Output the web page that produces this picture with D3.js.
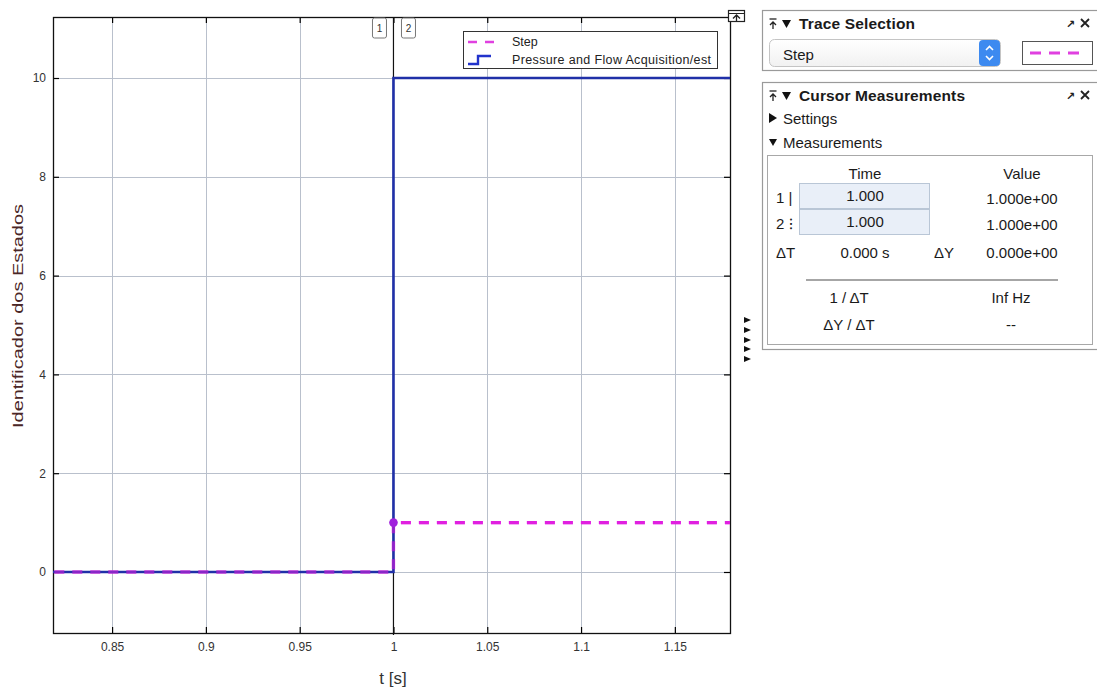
<!DOCTYPE html>
<html>
<head>
<meta charset="utf-8">
<script src="https://cdn.jsdelivr.net/npm/d3@7"></script>
<style>
  html, body { margin: 0; padding: 0; background: #fff; }
  svg { display: block; font-family: "Liberation Sans", Arial, Helvetica, sans-serif; }
</style>
</head>
<body>
<svg id="chart" width="1097" height="687"></svg>
<script>
// Signal samples (time in seconds)
const timeSamples   = [0.80, 1.0, 1.0, 1.20];
const stepValues    = [0, 0, 1, 1];
const pressureFlow  = [0, 0, 10, 10];
const seriesNames   = ["Step", "Pressure and Flow Acquisition/est"];

// Axis ticks
const xTicks = [0.85, 0.9, 0.95, 1, 1.05, 1.1, 1.15];
const yTicks = [0, 2, 4, 6, 8, 10];
const xDomain = [0.8185, 1.1794];
const yDomain = [-1.235, 11.235];

// Cursor readout
const cursorIds    = [1, 2];
const cursorTimes  = [1.000, 1.000];
const cursorValues = [1.0, 1.0];

const svg = d3.select("#chart");
const plot = { left: 53, right: 730, top: 17, bottom: 633 };

const x = d3.scaleLinear().domain(xDomain).range([plot.left, plot.right]);
const y = d3.scaleLinear().domain(yDomain).range([plot.bottom, plot.top]);

svg.append("defs").append("clipPath").attr("id", "plotClip")
  .append("rect")
  .attr("x", plot.left).attr("y", plot.top)
  .attr("width", plot.right - plot.left).attr("height", plot.bottom - plot.top);

// Grid
const grid = svg.append("g").attr("stroke", "#b9c0cc").attr("stroke-width", 1);
grid.selectAll("line.v").data(xTicks).join("line")
  .attr("x1", d => Math.round(x(d)) + 0.5).attr("x2", d => Math.round(x(d)) + 0.5)
  .attr("y1", plot.top).attr("y2", plot.bottom);
grid.selectAll("line.h").data(yTicks).join("line")
  .attr("y1", d => Math.round(y(d)) + 0.5).attr("y2", d => Math.round(y(d)) + 0.5)
  .attr("x1", plot.left).attr("x2", plot.right);

// Axes with inward ticks
function styleAxis(g) {
  g.select(".domain").remove();
  g.selectAll(".tick line").attr("stroke", "#000").attr("stroke-width", 1.2);
  g.selectAll(".tick text").attr("fill", "#333").attr("font-size", 12)
    .attr("font-family", "'Liberation Sans', Arial, sans-serif");
}
svg.append("g").attr("transform", `translate(0,${plot.bottom})`)
  .call(d3.axisBottom(x).tickValues(xTicks).tickFormat(d3.format("")).tickSize(-6).tickPadding(9))
  .call(styleAxis);
svg.append("g").attr("transform", `translate(0,${plot.top})`)
  .call(d3.axisTop(x).tickValues(xTicks).tickFormat("").tickSize(-6))
  .call(styleAxis);
svg.append("g").attr("transform", `translate(${plot.left},0)`)
  .call(d3.axisLeft(y).tickValues(yTicks).tickSize(-6).tickPadding(7))
  .call(styleAxis);
svg.append("g").attr("transform", `translate(${plot.right},0)`)
  .call(d3.axisRight(y).tickValues(yTicks).tickFormat("").tickSize(-6))
  .call(styleAxis);

// Frame
svg.append("rect")
  .attr("x", plot.left + 0.5).attr("y", plot.top + 0.5)
  .attr("width", plot.right - plot.left).attr("height", plot.bottom - plot.top)
  .attr("fill", "none").attr("stroke", "#111").attr("stroke-width", 1.3);

// Cursor line at the shared cursor time
svg.append("line")
  .attr("x1", x(cursorTimes[0])).attr("x2", x(cursorTimes[0]))
  .attr("y1", plot.top).attr("y2", plot.bottom + 2)
  .attr("stroke", "#111").attr("stroke-width", 1.2);

// Traces
const stepData = timeSamples.map((t, i) => [t, stepValues[i]]);
const pfData   = timeSamples.map((t, i) => [t, pressureFlow[i]]);
const line = d3.line().x(d => x(d[0])).y(d => y(d[1]));
const traces = svg.append("g").attr("clip-path", "url(#plotClip)");

traces.append("path").datum(stepData).attr("d", line)
  .attr("fill", "none").attr("stroke", "#e020e0").attr("stroke-width", 3.2)
  .attr("stroke-dasharray", "10,8");
traces.append("path").datum(pfData).attr("d", line)
  .attr("fill", "none").attr("stroke", "#2030a8").attr("stroke-width", 2.6);
traces.append("path").datum(stepData).attr("d", line)
  .attr("fill", "none").attr("stroke", "#e020e0").attr("stroke-width", 3.2)
  .attr("stroke-dasharray", "10,8").attr("opacity", 0.55);

// Cursor marker on the step trace
svg.append("circle")
  .attr("cx", x(cursorTimes[0])).attr("cy", y(cursorValues[0])).attr("r", 4.3)
  .attr("fill", "#a020dc");

// Cursor tags
const tagX = [x(cursorTimes[0]) - 14, x(cursorTimes[1]) + 15];
cursorIds.forEach((id, i) => {
  const g = svg.append("g").attr("transform", `translate(${tagX[i]},28)`);
  g.append("rect").attr("x", -7).attr("y", -10).attr("width", 14).attr("height", 20)
    .attr("rx", 2).attr("fill", "#fff").attr("stroke", "#777").attr("stroke-width", 1);
  g.append("text").attr("text-anchor", "middle").attr("y", 4).attr("font-size", 10)
    .attr("fill", "#333").text(id);
});

// Legend
const lg = svg.append("g");
lg.append("rect").attr("x", 463.5).attr("y", 31.5).attr("width", 254).attr("height", 37)
  .attr("fill", "#fff").attr("stroke", "#333").attr("stroke-width", 1);
lg.append("line").attr("x1", 468).attr("x2", 499).attr("y1", 42).attr("y2", 42)
  .attr("stroke", "#e040e0").attr("stroke-width", 2.5).attr("stroke-dasharray", "9,8");
lg.append("path").attr("d", "M468,64 H478 V56 H491")
  .attr("fill", "none").attr("stroke", "#2233cc").attr("stroke-width", 2.4);
lg.selectAll("text").data(seriesNames).join("text")
  .attr("x", 512).attr("y", (d, i) => 46 + i * 18)
  .attr("font-size", 12.5).attr("fill", "#222")
  .attr("textLength", (d, i) => i === 1 ? 199 : null)
  .attr("lengthAdjust", "spacing")
  .text(d => d);

// Axis titles
svg.append("text").attr("x", 393).attr("y", 684).attr("text-anchor", "middle")
  .attr("font-size", 17).attr("fill", "#333").text("t [s]");
svg.append("text").attr("transform", "translate(23,316) rotate(-90)")
  .attr("text-anchor", "middle").attr("font-size", 15.5).attr("fill", "#4a2626")
  .attr("textLength", 224).attr("lengthAdjust", "spacingAndGlyphs")
  .text("Identificador dos Estados");

// Undock icon at plot corner
const ui = svg.append("g");
ui.append("rect").attr("x", 728.5).attr("y", 10.5).attr("width", 16).attr("height", 11)
  .attr("fill", "#fff").attr("stroke", "#222").attr("stroke-width", 1.2);
ui.append("line").attr("x1", 729).attr("x2", 744).attr("y1", 13.5).attr("y2", 13.5).attr("stroke", "#222");
ui.append("path").attr("d", "M736.5,21 V15.5 M733,18.5 L736.5,15 L740,18.5")
  .attr("fill", "none").attr("stroke", "#222").attr("stroke-width", 1.3);

// Collapsed side toolbar arrows
[320, 330, 340, 349, 359].forEach(ty => {
  svg.append("path").attr("d", `M744,${ty - 3} L751,${ty} L744,${ty + 3} Z`).attr("fill", "#111");
});

// ---------- Side panels ----------
function pinIcon(g, px, py) {
  g.append("line").attr("x1", px - 3.5).attr("x2", px + 3.5).attr("y1", py - 5).attr("y2", py - 5)
    .attr("stroke", "#222").attr("stroke-width", 1.3);
  g.append("path").attr("d", `M${px},${py + 5} V${py - 2} M${px - 3},${py + 1} L${px},${py - 2} L${px + 3},${py + 1}`)
    .attr("fill", "none").attr("stroke", "#222").attr("stroke-width", 1.3);
}
function panelHeader(g, title, hy, len) {
  pinIcon(g, 773, hy - 5);
  g.append("path").attr("d", `M782,${hy - 9} L791,${hy - 9} L786.5,${hy - 1} Z`).attr("fill", "#111");
  g.append("text").attr("x", 799).attr("y", hy).attr("font-size", 15.5).attr("font-weight", "bold")
    .attr("fill", "#1a1a1a").attr("textLength", len).attr("lengthAdjust", "spacing").text(title);
  g.append("text").attr("x", 1066).attr("y", hy - 1).attr("font-size", 11).attr("font-weight", "bold")
    .attr("font-family", "'DejaVu Sans', sans-serif").attr("fill", "#222").text("\u2197");
  g.append("path").attr("d", `M1081,${hy - 10} L1089,${hy - 2} M1089,${hy - 10} L1081,${hy - 2}`)
    .attr("stroke", "#222").attr("stroke-width", 1.8);
}

// Trace Selection panel
const p1 = svg.append("g");
p1.append("rect").attr("x", 762.5).attr("y", 10.5).attr("width", 340).attr("height", 60)
  .attr("fill", "#fff").attr("stroke", "#9a9a9a").attr("stroke-width", 1.2);
panelHeader(p1, "Trace Selection", 29, 116);
const grad = svg.select("defs").append("linearGradient").attr("id", "ddGrad")
  .attr("x1", 0).attr("y1", 0).attr("x2", 0).attr("y2", 1);
grad.append("stop").attr("offset", 0).attr("stop-color", "#ffffff");
grad.append("stop").attr("offset", 1).attr("stop-color", "#f1f1f1");
p1.append("rect").attr("x", 769.5).attr("y", 39.5).attr("width", 231).attr("height", 27).attr("rx", 5)
  .attr("fill", "url(#ddGrad)").attr("stroke", "#c4c4c4");
p1.append("rect").attr("x", 979).attr("y", 40).attr("width", 21).attr("height", 26).attr("rx", 4)
  .attr("fill", "#3d8af0");
p1.append("path").attr("d", "M986,50 L989.5,46.5 L993,50 M986,56 L989.5,59.5 L993,56")
  .attr("fill", "none").attr("stroke", "#fff").attr("stroke-width", 1.6);
p1.append("text").attr("x", 783).attr("y", 60).attr("font-size", 15).attr("fill", "#1a1a1a")
  .text(seriesNames[0]);
p1.append("rect").attr("x", 1022.5).attr("y", 41.5).attr("width", 70).attr("height", 23)
  .attr("fill", "#fff").attr("stroke", "#555").attr("stroke-width", 1);
p1.append("line").attr("x1", 1030).attr("x2", 1087).attr("y1", 53).attr("y2", 53)
  .attr("stroke", "#e040e0").attr("stroke-width", 3).attr("stroke-dasharray", "11,8");

// Cursor Measurements panel
const p2 = svg.append("g");
p2.append("rect").attr("x", 762.5).attr("y", 82.5).attr("width", 340).attr("height", 267)
  .attr("fill", "#fff").attr("stroke", "#9a9a9a").attr("stroke-width", 1.2);
panelHeader(p2, "Cursor Measurements", 101, 166);
p2.append("path").attr("d", "M769,113 L777,118 L769,123 Z").attr("fill", "#111");
p2.append("text").attr("x", 783).attr("y", 124).attr("font-size", 15).attr("fill", "#1a1a1a").text("Settings");
p2.append("path").attr("d", "M769,139 L777,139 L773,146 Z").attr("fill", "#111");
p2.append("text").attr("x", 783).attr("y", 148).attr("font-size", 15).attr("fill", "#1a1a1a").text("Measurements");
p2.append("rect").attr("x", 767.5).attr("y", 155.5).attr("width", 325).attr("height", 189)
  .attr("fill", "#fff").attr("stroke", "#a8a8a8").attr("stroke-width", 1);

const fmtT = d3.format(".3f");
const fmtE = v => v.toExponential(3).replace(/e([+-])(\d)$/, "e$10$2");
const colTime = 865, colVal = 1022;
function t2(txt, tx, ty, anchor) {
  p2.append("text").attr("x", tx).attr("y", ty).attr("text-anchor", anchor || "middle")
    .attr("font-size", 15).attr("fill", "#1a1a1a").text(txt);
}
t2("Time", colTime, 179);
t2("Value", colVal, 179);
const rowMarks = ["1 |", "2 \u205D"];
cursorIds.forEach((id, i) => {
  const ry = 183 + i * 26;
  p2.append("rect").attr("x", 799.5).attr("y", ry + 0.5).attr("width", 130).attr("height", 25)
    .attr("fill", "#e9eff8").attr("stroke", "#b9c6d6");
  t2(rowMarks[i], 776, 203 + i * 26, "start");
  t2(fmtT(cursorTimes[i]), colTime, 201 + i * 26);
  t2(fmtE(cursorValues[i]), colVal, 204 + i * 26);
});
const dT = cursorTimes[1] - cursorTimes[0];
const dY = cursorValues[1] - cursorValues[0];
t2("\u0394T", 776, 258, "start");
t2(fmtT(dT) + " s", colTime, 258);
t2("\u0394Y", 944, 258);
t2(fmtE(dY), colVal, 258);
p2.append("line").attr("x1", 806).attr("x2", 1058).attr("y1", 280).attr("y2", 280)
  .attr("stroke", "#888").attr("stroke-width", 1.3);
t2("1 / \u0394T", 849, 303);
t2(dT === 0 ? "Inf Hz" : d3.format(".3f")(1 / dT) + " Hz", 1011, 303);
t2("\u0394Y / \u0394T", 849, 330);
t2(dT === 0 ? "--" : fmtE(dY / dT), 1011, 330);
</script>
</body>
</html>
